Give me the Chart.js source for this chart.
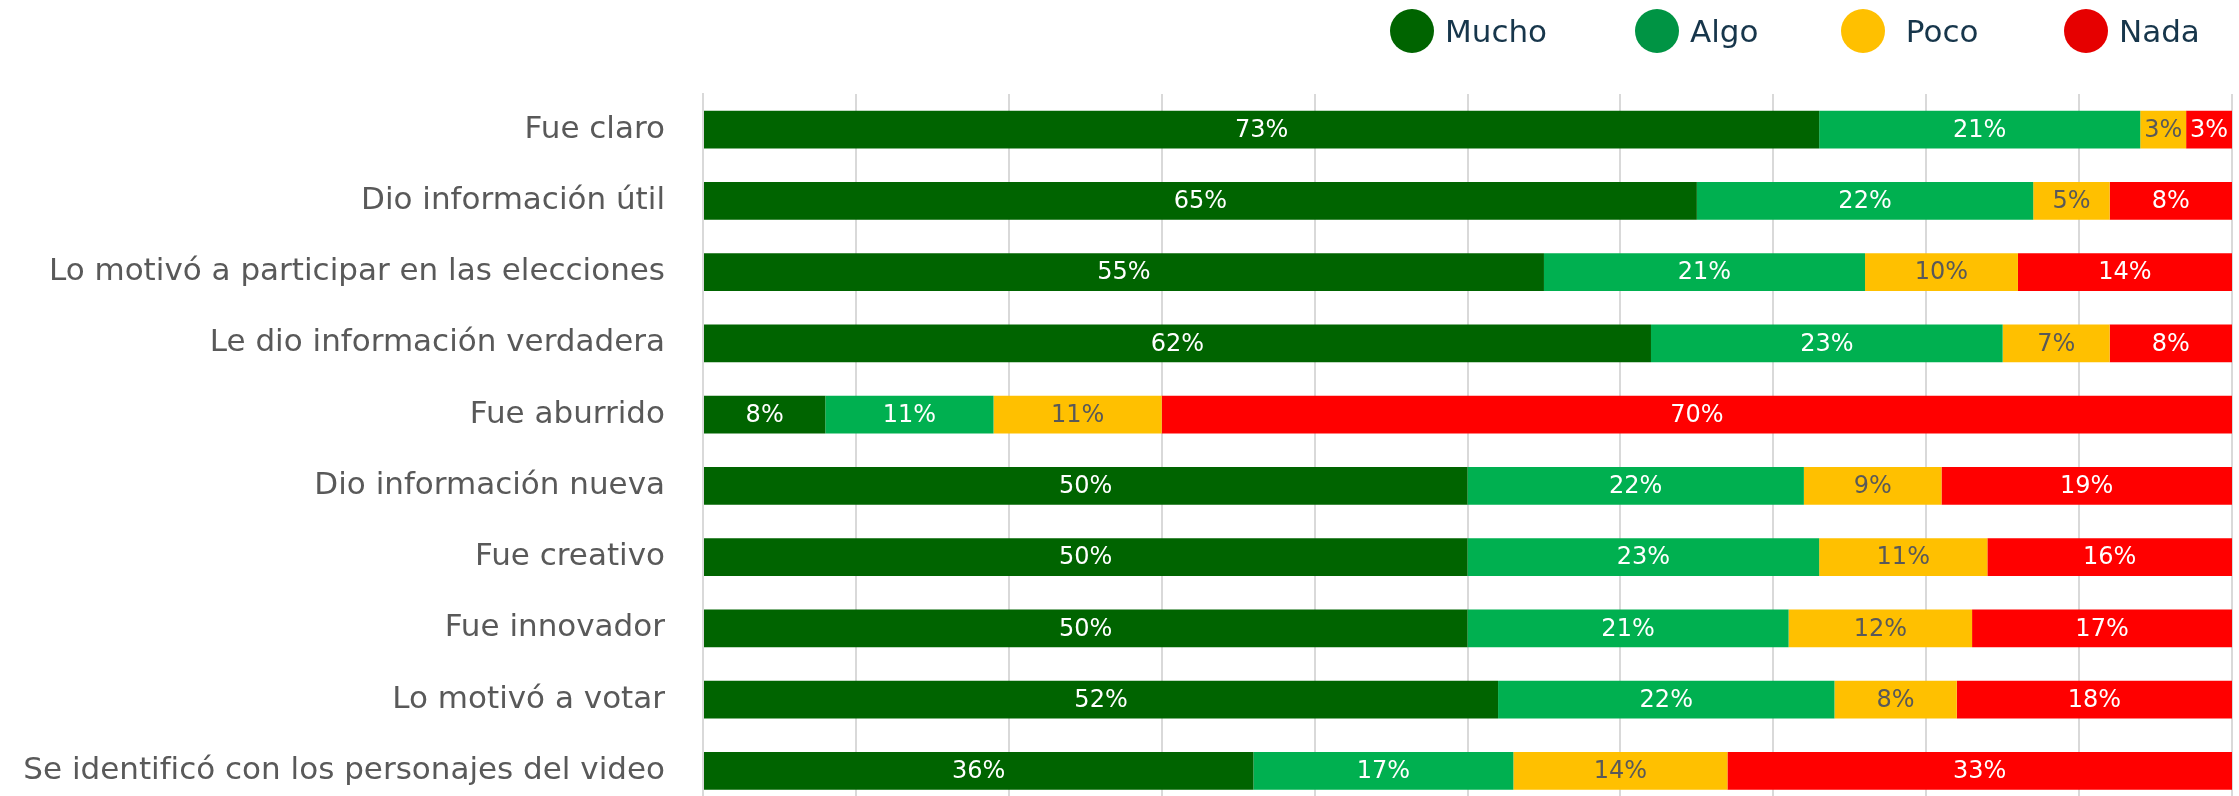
<!DOCTYPE html>
<html lang="es">
<head>
<meta charset="utf-8">
<title>Evaluación del video</title>
<script src="https://cdn.jsdelivr.net/npm/chart.js@4.4.1/dist/chart.umd.min.js"></script>
<style>
  html, body { margin: 0; padding: 0; background: #fff; overflow: hidden; }
  #wrap { position: relative; width: 2239px; height: 863px; }
  #legend { position: absolute; left: 0; top: 0; width: 2239px; height: 64px;
            font-family: 'DejaVu Sans', sans-serif; font-size: 31px; color: #17364b; }
  .item { position: absolute; top: 9px; height: 44px; display: flex; align-items: center; white-space: pre; }
  .dot { width: 44px; height: 44px; border-radius: 50%; margin-right: 11px; }
  canvas { position: absolute; left: 0; top: 0; }
</style>
</head>
<body>
<div id="wrap">
  <canvas id="chart" width="2239" height="863"></canvas>
  <div id="legend"></div>
</div>
<script>
// categories, top to bottom
const categories = [
  'Fue claro',
  'Dio información útil',
  'Lo motivó a participar en las elecciones',
  'Le dio información verdadera',
  'Fue aburrido',
  'Dio información nueva',
  'Fue creativo',
  'Fue innovador',
  'Lo motivó a votar',
  'Se identificó con los personajes del video'
];

// percentages per answer
const mucho = [73, 65, 55, 62, 8, 50, 50, 50, 52, 36];
const algo  = [21, 22, 21, 23, 11, 22, 23, 21, 22, 17];
const poco  = [3, 5, 10, 7, 11, 9, 11, 12, 8, 14];
const nada  = [3, 8, 14, 8, 70, 19, 16, 17, 18, 33];

const seriesNames = ['Mucho', 'Algo', 'Poco', 'Nada'];
const seriesValues = [mucho, algo, poco, nada];

const barColors = ['#006400', '#00B050', '#FFC000', '#FF0000'];
const dotColors = ['#006400', '#009444', '#FFC000', '#E60000'];
const valueColors = ['#ffffff', '#ffffff', '#595959', '#ffffff'];
const legendLeft = [1390, 1635, 1841, 2064];
const legendText = ['Mucho', 'Algo', ' Poco', 'Nada'];

// legend row
const legend = document.getElementById('legend');
seriesNames.forEach((name, i) => {
  const item = document.createElement('div');
  item.className = 'item';
  item.style.left = legendLeft[i] + 'px';
  const dot = document.createElement('span');
  dot.className = 'dot';
  dot.style.background = dotColors[i];
  const txt = document.createElement('span');
  txt.textContent = legendText[i];
  item.appendChild(dot);
  item.appendChild(txt);
  legend.appendChild(item);
});

// percentage text in the middle of each segment
const valueLabels = {
  id: 'valueLabels',
  afterDatasetsDraw(chart) {
    const ctx = chart.ctx;
    ctx.save();
    ctx.font = '24px "DejaVu Sans"';
    ctx.textAlign = 'center';
    ctx.textBaseline = 'middle';
    chart.data.datasets.forEach((ds, i) => {
      chart.getDatasetMeta(i).data.forEach((bar, j) => {
        const p = bar.getProps(['x', 'y', 'base'], true);
        ctx.fillStyle = valueColors[i];
        ctx.fillText(ds.data[j] + '%', (p.x + p.base) / 2, p.y + 1);
      });
    });
    ctx.restore();
  }
};

const chart = new Chart(document.getElementById('chart').getContext('2d'), {
  type: 'bar',
  data: {
    labels: categories,
    datasets: seriesNames.map((name, i) => ({
      label: name,
      data: seriesValues[i],
      backgroundColor: barColors[i],
      borderWidth: 0,
      categoryPercentage: 1,
      barPercentage: 0.53
    }))
  },
  options: {
    indexAxis: 'y',
    responsive: false,
    animation: false,
    layout: { padding: { top: 94, right: 7, bottom: 0, left: 0 } },
    plugins: {
      legend: { display: false },
      tooltip: { enabled: false }
    },
    scales: {
      x: {
        stacked: true,
        min: 0,
        max: 100,
        ticks: { display: false, stepSize: 10 },
        grid: { color: '#d9d9d9', lineWidth: 2, drawTicks: false },
        border: { display: false },
        afterFit: scale => { scale.height = 0; }
      },
      y: {
        stacked: true,
        grid: { display: false, drawTicks: false },
        border: { display: true, color: '#d9d9d9', width: 2 },
        ticks: {
          color: '#595959',
          padding: 38,
          font: { family: 'DejaVu Sans', size: 31 }
        },
        afterFit: scale => { scale.width = 703; }
      }
    }
  },
  plugins: [valueLabels]
});
</script>
</body>
</html>
